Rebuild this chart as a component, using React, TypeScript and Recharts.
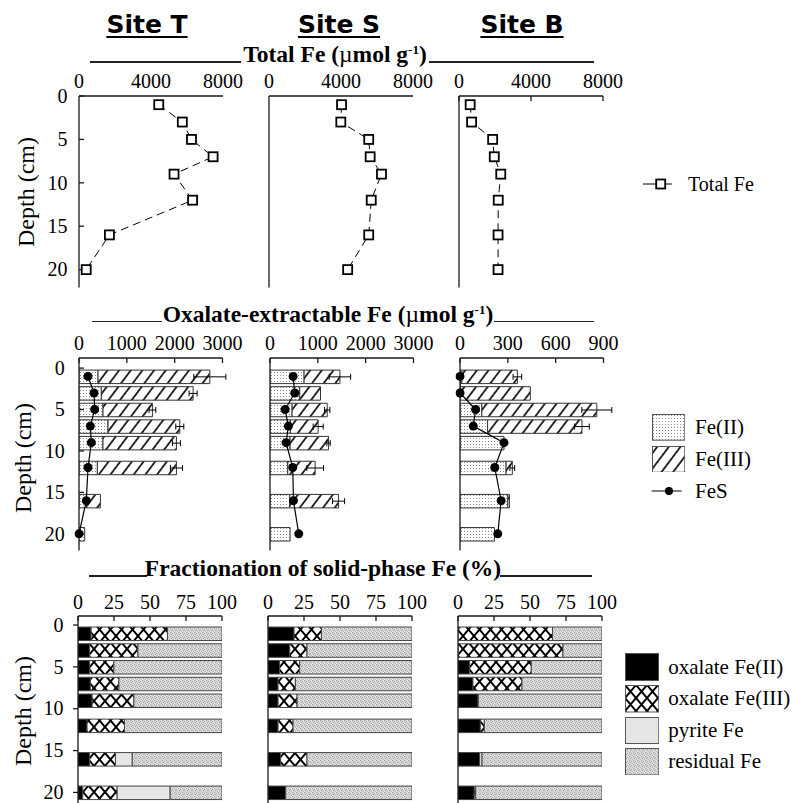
import React from "react";
import { Bar, ComposedChart, ErrorBar, Line, XAxis, YAxis } from "recharts";

const SERIF = '"Liberation Serif", "Times New Roman", serif';
const SANS = '"DejaVu Sans", Arial, sans-serif';

// sampling depths (cm)
const depths = [1, 3, 5, 7, 9, 12, 16, 20];

// total Fe (umol g-1)
const totalFeT = [4430, 5740, 6250, 7450, 5280, 6310, 1690, 400];
const totalFeS = [4030, 3990, 5540, 5620, 6250, 5680, 5540, 4370];
const totalFeB = [620, 700, 1870, 1960, 2320, 2180, 2170, 2170];

// oxalate-extractable Fe (umol g-1): Fe(II), Fe(III), error on total, FeS
const oxFe2T = [398, 467, 502, 607, 502, 384, 153, 119];
const oxFe3T = [2337, 1919, 1033, 1500, 1535, 1653, 294, 0];
const oxErrT = [335, 84, 70, 84, 84, 126, 0, 0];
const fesT = [188, 314, 328, 237, 258, 188, 153, 0];

const oxFe2S = [713, 622, 462, 427, 420, 371, 413, 420];
const oxFe3S = [749, 434, 734, 580, 804, 573, 1021, 0];
const oxErrS = [224, 0, 56, 105, 35, 175, 126, 0];
const fesS = [483, 517, 315, 385, 336, 476, 490, 601];

const oxFe2B = [12, 0, 137, 173, 276, 289, 300, 216];
const oxFe3B = [348, 441, 721, 592, 0, 39, 10, 0];
const oxErrB = [27, 0, 94, 46, 48, 15, 0, 0];
const fesB = [0, 0, 98, 83, 276, 218, 258, 237];

// fractionation of solid-phase Fe (%)
const fracFe2T = [9.1, 8.1, 8.1, 8.6, 9.8, 6.3, 8.1, 3.3];
const fracFe3T = [53.0, 33.5, 16.8, 19.8, 29.0, 26.0, 17.9, 23.9];
const fracPyrT = [0, 0, 0, 0, 0, 0, 11.7, 36.8];
const fracResT = [37.9, 58.4, 75.1, 71.6, 61.2, 67.7, 62.3, 36.0];

const fracFe2S = [18.1, 15.1, 8.1, 7.0, 7.0, 7.0, 8.8, 12.3];
const fracFe3S = [19.0, 12.0, 13.9, 12.0, 13.2, 10.4, 18.3, 0];
const fracPyrS = [0, 0, 0, 0, 0, 0, 0, 0];
const fracResS = [62.9, 72.9, 78.0, 81.0, 79.8, 82.6, 72.9, 87.7];

const fracFe2B = [0, 0, 8.1, 10.4, 13.9, 15.5, 15.0, 11.3];
const fracFe3B = [65.7, 72.9, 42.8, 34.0, 0.2, 2.8, 0, 1.0];
const fracPyrB = [0, 0, 0, 0, 0, 0, 1.7, 0];
const fracResB = [34.3, 27.1, 49.1, 55.6, 85.9, 81.7, 83.3, 87.7];

// axis ticks
const depthTicks = [0, 5, 10, 15, 20];
const totalTicks = [0, 4000, 8000];
const oxTicksTS = [0, 1000, 2000, 3000];
const oxTicksB = [0, 300, 600, 900];
const fracTicks = [0, 25, 50, 75, 100];

const totalRows = (v: number[]) => depths.map((d, i) => ({ depth: d, total: v[i] }));
const oxRows = (f2: number[], f3: number[], err: number[], fes: number[]) =>
  depths.map((d, i) => ({ depth: d, fe2: f2[i], fe3: f3[i], err: err[i] || null, fes: fes[i] }));
const fracRows = (a: number[], b: number[], c: number[], r: number[]) =>
  depths.map((d, i) => ({ depth: d, ox2: a[i], ox3: b[i], pyr: c[i], res: r[i] }));

const AXIS = { stroke: "#1a1a1a", strokeWidth: 1.3 };
const ML = 72;
const MT = 32;
const MR = 34;
const MB = 8;

// serif tick labels (Recharts passes the computed anchor point)
const topTick = (props: any) => (
  <text key={`t-${props.index}`} x={props.x} y={props.y} textAnchor="middle" fill="#000" style={{ fontFamily: SERIF, fontSize: 20 }}>
    {props.payload.value}
  </text>
);
const leftTick = (props: any) => (
  <text key={`l-${props.index}`} x={props.x} y={props.y + 6.7} textAnchor="end" fill="#000" style={{ fontFamily: SERIF, fontSize: 20 }}>
    {props.payload.value}
  </text>
);

type PanelProps = {
  left: number;
  top: number;
  width: number;
  height: number;
  xDomain: [number, number];
  xTicks: number[];
  topTickLine: boolean;
  yDomain: [number, number];
  showDepth: boolean;
  depthOut: boolean;
  depthMargin: number;
  rightTicks: number[];
  bottomTicks: number[];
  data: object[];
  children: React.ReactNode;
};

function Panel(p: PanelProps) {
  return (
    <div style={{ position: "absolute", left: p.left - ML, top: p.top - MT }}>
      <ComposedChart
        layout="vertical"
        width={ML + p.width + MR}
        height={MT + p.height + MB}
        data={p.data}
        margin={{ top: 0, right: MR, bottom: MB, left: 0 }}
      >
        <XAxis
          type="number"
          orientation="top"
          domain={p.xDomain}
          ticks={p.xTicks}
          interval={0}
          allowDataOverflow
          height={MT}
          axisLine={AXIS}
          tickLine={p.topTickLine ? AXIS : false}
          tickSize={-5}
          tickMargin={12.5}
          tick={topTick}
        />
        <XAxis
          xAxisId="frame"
          type="number"
          orientation="bottom"
          domain={[0, 1]}
          ticks={p.bottomTicks}
          allowDataOverflow
          height={0}
          axisLine={AXIS}
          tickLine={AXIS}
          tickSize={-5}
          tick={false}
        />
        <YAxis
          type="number"
          dataKey="depth"
          domain={p.yDomain}
          ticks={depthTicks}
          interval={0}
          allowDataOverflow
          width={ML}
          axisLine={AXIS}
          tickLine={AXIS}
          tickSize={p.depthOut ? 5 : -5}
          tickMargin={p.depthMargin}
          tick={p.showDepth ? leftTick : false}
        />
        <YAxis
          yAxisId="frame"
          type="number"
          orientation="right"
          domain={p.yDomain}
          ticks={p.rightTicks}
          allowDataOverflow
          width={0}
          axisLine={AXIS}
          tickLine={AXIS}
          tickSize={-5}
          tick={false}
        />
        {p.children}
      </ComposedChart>
    </div>
  );
}

const squareDot = (props: any) => {
  const { cx, cy, index } = props;
  if (cx == null || cy == null) return <g key={`sq-${index}`} />;
  return (
    <rect key={`sq-${index}`} x={cx - 4.5} y={cy - 4.5} width={9} height={9} fill="#fff" stroke="#000" strokeWidth={1.8} />
  );
};

function TotalSeries() {
  return (
    <Line
      dataKey="total"
      stroke="#000"
      strokeWidth={1}
      strokeDasharray="8 5"
      dot={squareDot}
      activeDot={false}
      isAnimationActive={false}
    />
  );
}

function OxSeries() {
  return (
    <>
      <Bar dataKey="fe2" stackId="ox" fill="url(#stipple)" stroke="#333" strokeWidth={1} barSize={13.5} isAnimationActive={false} />
      <Bar dataKey="fe3" stackId="ox" fill="url(#hatch)" stroke="#333" strokeWidth={1} barSize={13.5} isAnimationActive={false}>
        <ErrorBar dataKey="err" direction="x" width={3} stroke="#000" strokeWidth={1} isAnimationActive={false} />
      </Bar>
      <Line
        dataKey="fes"
        stroke="#000"
        strokeWidth={1.2}
        dot={{ r: 4.5, fill: "#000", stroke: "#000", strokeWidth: 0, clipDot: false }}
        activeDot={false}
        isAnimationActive={false}
      />
    </>
  );
}

function FracSeries() {
  return (
    <>
      <Bar dataKey="ox2" stackId="f" fill="#000" stroke="#444" strokeWidth={1} barSize={13.5} isAnimationActive={false} />
      <Bar dataKey="ox3" stackId="f" fill="url(#cross)" stroke="#444" strokeWidth={1} barSize={13.5} isAnimationActive={false} />
      <Bar dataKey="pyr" stackId="f" fill="#e6e6e6" stroke="#444" strokeWidth={1} barSize={13.5} isAnimationActive={false} />
      <Bar dataKey="res" stackId="f" fill="url(#residual)" stroke="#444" strokeWidth={1} barSize={13.5} isAnimationActive={false} />
    </>
  );
}

// section title sitting on a rule: the rule runs along the text baseline
function Title({ x, lineY, l1, l2, r1, r2, children }: any) {
  return (
    <>
      <div style={{ position: "absolute", left: l1, top: lineY - 0.7, width: l2 - l1, height: 1.4, background: "#222" }} />
      <div style={{ position: "absolute", left: r1, top: lineY - 0.7, width: r2 - r1, height: 1.4, background: "#222" }} />
      <div
        style={{
          position: "absolute",
          left: x,
          top: lineY - 21.9,
          transform: "translateX(-50%)",
          fontFamily: SERIF,
          fontWeight: "bold",
          fontSize: 23.5,
          lineHeight: "28px",
          whiteSpace: "nowrap",
        }}
      >
        {children}
      </div>
    </>
  );
}

function Site({ x, label }: { x: number; label: string }) {
  return (
    <div
      style={{
        position: "absolute",
        left: x,
        top: 9.6,
        transform: "translateX(-50%)",
        fontFamily: SANS,
        fontWeight: "bold",
        fontSize: 25,
        lineHeight: "30px",
        whiteSpace: "nowrap",
        textDecoration: "underline",
        textDecorationThickness: "2px",
        textUnderlineOffset: "3px",
      }}
    >
      {label}
    </div>
  );
}

function DepthLabel({ x, y }: { x: number; y: number }) {
  return (
    <div
      style={{
        position: "absolute",
        left: x,
        top: y,
        transform: "translate(-50%, -50%) rotate(-90deg)",
        fontFamily: SERIF,
        fontSize: 24,
        lineHeight: "28px",
        whiteSpace: "nowrap",
      }}
    >
      Depth (cm)
    </div>
  );
}

function LegendText({ x, cy, size, children }: any) {
  return (
    <div
      style={{
        position: "absolute",
        left: x,
        top: cy - 12.2,
        fontFamily: SERIF,
        fontSize: size,
        lineHeight: "24px",
        whiteSpace: "nowrap",
      }}
    >
      {children}
    </div>
  );
}

function Swatch({ x, y, w, h, fill }: any) {
  return (
    <svg style={{ position: "absolute", left: x, top: y }} width={w} height={h}>
      <rect x={0.5} y={0.5} width={w - 1} height={h - 1} fill={fill} stroke="#555" strokeWidth={1} />
    </svg>
  );
}

const unit = (
  <span>
    (<span style={{ fontWeight: "normal" }}>&micro;</span>mol g<sup style={{ fontSize: 13, verticalAlign: 8, lineHeight: 0 }}>-1</sup>)
  </span>
);

export default function App() {
  const topRow = { top: 95.7, height: 191.6, width: 144, yDomain: [0, 22.07] as [number, number] };
  const midRow = { top: 358.3, height: 192.4, width: 143.5, yDomain: [-1.22, 22.0] as [number, number] };
  const botRow = { top: 616, height: 190, width: 144, yDomain: [-1.08, 21.62] as [number, number] };
  const topRight = [1.84, 6.34, 10.94, 15.55, 20.16];
  const midRight = [0.88, 5.75, 10.58, 15.38, 20.2];
  const botRight = [10.48];

  return (
    <div style={{ position: "absolute", left: 0, top: 0, width: 792, height: 803, overflow: "hidden", background: "#fff" }}>
      <svg width={0} height={0} style={{ position: "absolute" }}>
        <defs>
          <pattern id="stipple" patternUnits="userSpaceOnUse" width={3} height={3}>
            <rect width={3} height={3} fill="#fff" />
            <rect x={1} y={1} width={1} height={1} fill="#8c8c8c" />
          </pattern>
          <pattern id="hatch" patternUnits="userSpaceOnUse" width={9.3} height={10} patternTransform="rotate(37)">
            <rect width={9.3} height={10} fill="#fff" />
            <line x1={4.65} y1={-1} x2={4.65} y2={11} stroke="#000" strokeWidth={1.6} />
          </pattern>
          <pattern id="cross" patternUnits="userSpaceOnUse" width={11} height={13}>
            <rect width={11} height={13} fill="#fff" />
            <path d="M-1,-1.18 L12,14.18 M12,-1.18 L-1,14.18" stroke="#000" strokeWidth={2} />
          </pattern>
          <pattern id="residual" patternUnits="userSpaceOnUse" width={4} height={4}>
            <rect width={4} height={4} fill="#d6d6d6" />
            <rect x={0} y={0} width={1} height={1} fill="#9a9a9a" />
            <rect x={2} y={1} width={1} height={1} fill="#ababab" />
            <rect x={1} y={2} width={1} height={1} fill="#a2a2a2" />
            <rect x={3} y={3} width={1} height={1} fill="#b5b5b5" />
            <rect x={3} y={0} width={1} height={1} fill="#efefef" />
            <rect x={0} y={3} width={1} height={1} fill="#ececec" />
          </pattern>
        </defs>
      </svg>

      <Site x={147} label="Site T" />
      <Site x={339} label="Site S" />
      <Site x={522} label="Site B" />

      <Title x={335} lineY={62} l1={90} l2={241} r1={429} r2={594}>
        Total Fe {unit}
      </Title>
      <Title x={328} lineY={321.5} l1={92} l2={162} r1={494} r2={594}>
        Oxalate-extractable Fe {unit}
      </Title>
      <Title x={323} lineY={576} l1={88.6} l2={147} r1={500} r2={592}>
        Fractionation of solid-phase Fe (%)
      </Title>

      {/* total Fe */}
      <Panel left={79} {...topRow} xDomain={[0, 8000]} xTicks={totalTicks} topTickLine={false} showDepth depthOut={false} depthMargin={16.5} rightTicks={topRight} bottomTicks={[1 / 3, 2 / 3]} data={totalRows(totalFeT)}>
        <TotalSeries />
      </Panel>
      <Panel left={269.3} {...topRow} xDomain={[0, 8000]} xTicks={totalTicks} topTickLine={false} showDepth={false} depthOut={false} depthMargin={16.5} rightTicks={topRight} bottomTicks={[0.25, 0.75]} data={totalRows(totalFeS)}>
        <TotalSeries />
      </Panel>
      <Panel left={459} {...topRow} xDomain={[0, 8000]} xTicks={totalTicks} topTickLine showDepth={false} depthOut={false} depthMargin={16.5} rightTicks={topRight} bottomTicks={[1 / 3, 2 / 3]} data={totalRows(totalFeB)}>
        <TotalSeries />
      </Panel>

      {/* oxalate-extractable Fe */}
      <Panel left={79.3} {...midRow} xDomain={[0, 3000]} xTicks={oxTicksTS} topTickLine showDepth depthOut={false} depthMargin={19.3} rightTicks={midRight} bottomTicks={[1 / 3, 2 / 3]} data={oxRows(oxFe2T, oxFe3T, oxErrT, fesT)}>
        <OxSeries />
      </Panel>
      <Panel left={270.3} {...midRow} xDomain={[0, 3000]} xTicks={oxTicksTS} topTickLine showDepth={false} depthOut={false} depthMargin={19.3} rightTicks={midRight} bottomTicks={[0.25, 0.5, 0.75]} data={oxRows(oxFe2S, oxFe3S, oxErrS, fesS)}>
        <OxSeries />
      </Panel>
      <Panel left={459.7} {...midRow} xDomain={[0, 900]} xTicks={oxTicksB} topTickLine showDepth={false} depthOut={false} depthMargin={19.3} rightTicks={midRight} bottomTicks={[1 / 3, 2 / 3]} data={oxRows(oxFe2B, oxFe3B, oxErrB, fesB)}>
        <OxSeries />
      </Panel>

      {/* fractionation */}
      <Panel left={77.7} {...botRow} xDomain={[0, 100]} xTicks={fracTicks} topTickLine showDepth depthOut depthMargin={9.4} rightTicks={botRight} bottomTicks={[]} data={fracRows(fracFe2T, fracFe3T, fracPyrT, fracResT)}>
        <FracSeries />
      </Panel>
      <Panel left={268.3} {...botRow} xDomain={[0, 100]} xTicks={fracTicks} topTickLine showDepth={false} depthOut depthMargin={9.4} rightTicks={botRight} bottomTicks={[]} data={fracRows(fracFe2S, fracFe3S, fracPyrS, fracResS)}>
        <FracSeries />
      </Panel>
      <Panel left={457.7} {...botRow} xDomain={[0, 100]} xTicks={fracTicks} topTickLine showDepth={false} depthOut depthMargin={9.4} rightTicks={botRight} bottomTicks={[]} data={fracRows(fracFe2B, fracFe3B, fracPyrB, fracResB)}>
        <FracSeries />
      </Panel>

      <DepthLabel x={25.8} y={192} />
      <DepthLabel x={22.5} y={457.5} />
      <DepthLabel x={22.5} y={710.8} />

      {/* legends */}
      <svg style={{ position: "absolute", left: 640, top: 176 }} width={36} height={16}>
        <line x1={3} y1={8} x2={32} y2={8} stroke="#000" strokeWidth={1} />
        <rect x={16.2} y={3.5} width={9} height={9} fill="#fff" stroke="#000" strokeWidth={1.8} />
      </svg>
      <LegendText x={688} cy={184} size={20}>Total Fe</LegendText>

      <Swatch x={651.7} y={414} w={33.3} h={26.7} fill="url(#stipple)" />
      <LegendText x={695} cy={427.5} size={21}>Fe(II)</LegendText>
      <Swatch x={651.7} y={445.7} w={33.3} h={26.7} fill="url(#hatch)" />
      <LegendText x={695} cy={459} size={21}>Fe(III)</LegendText>
      <svg style={{ position: "absolute", left: 650, top: 483 }} width={34} height={16}>
        <line x1={1.7} y1={8} x2={31.7} y2={8} stroke="#000" strokeWidth={1} />
        <circle cx={19} cy={8} r={4} fill="#000" />
      </svg>
      <LegendText x={695} cy={491} size={21}>FeS</LegendText>

      <Swatch x={625} y={653} w={34.3} h={28} fill="#000" />
      <LegendText x={668.3} cy={667} size={21}>oxalate Fe(II)</LegendText>
      <Swatch x={625} y={685} w={34.3} h={27.5} fill="url(#cross)" />
      <LegendText x={668.3} cy={698.5} size={21}>oxalate Fe(III)</LegendText>
      <Swatch x={625} y={716.7} w={34.3} h={27} fill="#e6e6e6" />
      <LegendText x={668.3} cy={730} size={21}>pyrite Fe</LegendText>
      <Swatch x={625} y={747.7} w={34.3} h={27.5} fill="url(#residual)" />
      <LegendText x={668.3} cy={761.3} size={21}>residual Fe</LegendText>
    </div>
  );
}
